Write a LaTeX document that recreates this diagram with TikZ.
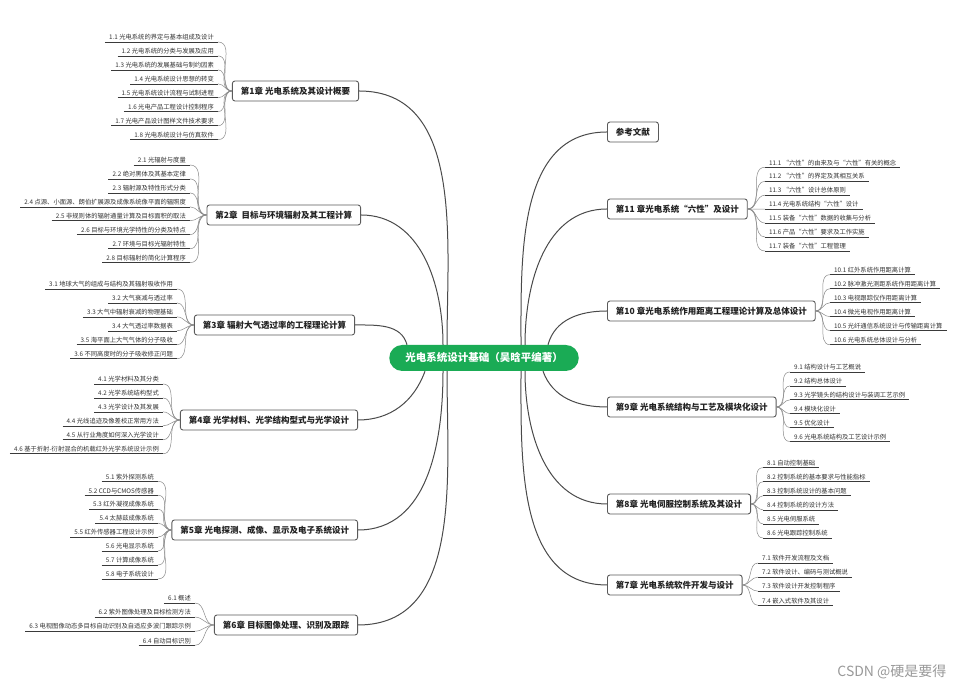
\documentclass[tikz,border=0pt]{standalone}
\usepackage{fontspec}
\setmainfont{Noto Sans CJK SC}
\usetikzlibrary{backgrounds}
\definecolor{rootgreen}{HTML}{1AAB55}
\definecolor{chapline}{HTML}{5A5A5A}
\definecolor{chaptext}{HTML}{222222}
\definecolor{leaftext}{HTML}{333333}
\definecolor{branchcol}{HTML}{4A4A4A}
\definecolor{twigcol}{HTML}{8A8A8A}
\definecolor{ulinecol}{HTML}{3A3A3A}
\definecolor{wmark}{HTML}{9A9A9A}
\begin{document}
\begin{tikzpicture}[x=1pt,y=1pt,
  rootnode/.style={fill=rootgreen, rounded corners=13pt, minimum height=26pt, inner xsep=16pt, text=white, font=\fontsize{10.5}{12}\selectfont\bfseries},
  chap/.style={draw=chapline, fill=white, line width=0.9pt, rounded corners=2.5pt, minimum height=20pt, inner xsep=8.5pt, inner ysep=2pt, text=chaptext, font=\fontsize{8.5}{10}\selectfont\bfseries},
  leaf/.style={inner xsep=4pt, inner ysep=1.5pt, text=leaftext, font=\fontsize{6.3}{7}\selectfont},
  branch/.style={draw=branchcol, line width=1pt},
  twig/.style={draw=twigcol, line width=0.5pt},
  uline/.style={draw=ulinecol, line width=0.6pt},
]
\useasboundingbox[fill=white] (0,0) rectangle (966,692);

% root
\node[rootnode] (root) at (484,334) {光电系统设计基础（吴晗平编著）};

% chapters left
\node[chap, anchor=east] (c1) at (359,601) {第1章 光电系统及其设计概要};
\node[chap, anchor=east] (c2) at (361,477) {第2章\ \ 目标与环境辐射及其工程计算};
\node[chap, anchor=east] (c3) at (355,367) {第3章 辐射大气透过率的工程理论计算};
\node[chap, anchor=east] (c4) at (358,272) {第4章 光学材料、光学结构型式与光学设计};
\node[chap, anchor=east] (c5) at (358,162) {第5章 光电探测、成像、显示及电子系统设计};
\node[chap, anchor=east] (c6) at (358,67) {第6章 目标图像处理、识别及跟踪};
% chapters right
\node[chap, anchor=west] (cr) at (607,560) {参考文献};
\node[chap, anchor=west] (c11) at (607,483) {第11 章光电系统“六性”及设计};
\node[chap, anchor=west] (c10) at (607,381) {第10 章光电系统作用距离工程理论计算及总体设计};
\node[chap, anchor=west] (c9) at (607,285) {第9章 光电系统结构与工艺及模块化设计};
\node[chap, anchor=west] (c8) at (607,188) {第8章 光电伺服控制系统及其设计};
\node[chap, anchor=west] (c7) at (607,107) {第7章 光电系统软件开发与设计};

% main branches
\draw[branch] ([xshift=-37pt]root.north) to[out=90,in=0] (c1.east);
\draw[branch] ([xshift=-41pt]root.north) to[out=90,in=0] (c2.east);
\draw[branch] ([xshift=-77pt]root.north) to[out=105,in=0] (c3.east);
\draw[branch] ([xshift=-59pt]root.south) to[out=250,in=0] (c4.east);
\draw[branch] ([xshift=-41pt]root.south) to[out=270,in=0] (c5.east);
\draw[branch] ([xshift=-37pt]root.south) to[out=270,in=0] (c6.east);
\draw[branch] ([xshift=37pt]root.north) to[out=90,in=180] (cr.west);
\draw[branch] ([xshift=41pt]root.north) to[out=90,in=180] (c11.west);
\draw[branch] ([xshift=64pt]root.north) to[out=75,in=180] (c10.west);
\draw[branch] ([xshift=59pt]root.south) to[out=290,in=180] (c9.west);
\draw[branch] ([xshift=41pt]root.south) to[out=270,in=180] (c8.west);
\draw[branch] ([xshift=37pt]root.south) to[out=270,in=180] (c7.west);

% chapter 1 leaves
\foreach \t [count=\i] in {1.1 光电系统的界定与基本组成及设计, 1.2 光电系统的分类与发展及应用, 1.3 光电系统的发展基础与制约因素, 1.4 光电系统设计思想的转变, 1.5 光电系统设计流程与试制进程, 1.6 光电产品工程设计控制程序, 1.7 光电产品设计图样文件技术要求, 1.8 光电系统设计与仿真软件}{
  \node[leaf, anchor=south east] (a\i) at (218,{650-13.95*(\i-1)}) {\t};
  \draw[uline] (a\i.south west) -- (a\i.south east);
  \draw[twig] (a\i.south east) to[out=0,in=180] (c1.west);
}
% chapter 2 leaves
\foreach \t [count=\i] in {2.1 光辐射与度量, 2.2 绝对黑体及其基本定律, 2.3 辐射源及特性形式分类, 2.4 点源、小面源、朗伯扩展源及成像系统像平面的辐照度, 2.5 非规则体的辐射通量计算及目标面积的取法, 2.6 目标与环境光学特性的分类及特点, 2.7 环境与目标光辐射特性, 2.8 目标辐射的简化计算程序}{
  \node[leaf, anchor=south east] (b\i) at (190,{527-13.95*(\i-1)}) {\t};
  \draw[uline] (b\i.south west) -- (b\i.south east);
  \draw[twig] (b\i.south east) to[out=0,in=180] (c2.west);
}
% chapter 3 leaves
\foreach \t [count=\i] in {3.1 地球大气的组成与结构及其辐射吸收作用, 3.2 大气衰减与透过率, 3.3 大气中辐射衰减的物理基础, 3.4 大气透过率数据表, 3.5 海平面上大气气体的分子吸收, 3.6 不同高度时的分子吸收修正问题}{
  \node[leaf, anchor=south east] (d\i) at (177,{403-13.95*(\i-1)}) {\t};
  \draw[uline] (d\i.south west) -- (d\i.south east);
  \draw[twig] (d\i.south east) to[out=0,in=180] (c3.west);
}
% chapter 4 leaves
\foreach \t [count=\i] in {4.1 光学材料及其分类, 4.2 光学系统结构型式, 4.3 光学设计及其发展, 4.4 光线追迹及像差校正常用方法, 4.5 从行业角度如何深入光学设计, 4.6 基于折射-衍射混合的机载红外光学系统设计示例}{
  \node[leaf, anchor=south east] (e\i) at (163,{308-13.95*(\i-1)}) {\t};
  \draw[uline] (e\i.south west) -- (e\i.south east);
  \draw[twig] (e\i.south east) to[out=0,in=180] (c4.west);
}
% chapter 5 leaves
\foreach \t [count=\i] in {5.1 紫外探测系统, 5.2 CCD与CMOS传感器, 5.3 红外凝视成像系统, 5.4 太赫兹成像系统, 5.5 红外传感器工程设计示例, 5.6 光电显示系统, 5.7 计算成像系统, 5.8 电子系统设计}{
  \node[leaf, anchor=south east] (f\i) at (158,{210.7-13.95*(\i-1)}) {\t};
  \draw[uline] (f\i.south west) -- (f\i.south east);
  \draw[twig] (f\i.south east) to[out=0,in=180] (c5.west);
}
% chapter 6 leaves
\foreach \t [count=\i] in {6.1 概述, 6.2 紫外图像处理及目标检测方法, 6.3 电视图像动态多目标自动识别及自适应多波门跟踪示例, 6.4 自动目标识别}{
  \node[leaf, anchor=south east] (g\i) at (195,{89-14.1*(\i-1)}) {\t};
  \draw[uline] (g\i.south west) -- (g\i.south east);
  \draw[twig] (g\i.south east) to[out=0,in=180] (c6.west);
}
% chapter 11 leaves
\foreach \t [count=\i] in {11.1 “六性”的由来及与“六性”有关的概念, 11.2 “六性”的界定及其相互关系, 11.3 “六性”设计总体原则, 11.4 光电系统结构“六性”设计, 11.5 装备“六性”数据的收集与分析, 11.6 产品“六性”要求及工作实施, 11.7 装备“六性”工程管理}{
  \node[leaf, anchor=south west] (h\i) at (765,{524.7-13.95*(\i-1)}) {\t};
  \draw[uline] (h\i.south west) -- (h\i.south east);
  \draw[twig] (c11.east) to[out=0,in=180] (h\i.south west);
}
% chapter 10 leaves
\foreach \t [count=\i] in {10.1 红外系统作用距离计算, 10.2 脉冲激光测距系统作用距离计算, 10.3 电视跟踪仪作用距离计算, 10.4 微光电视作用距离计算, 10.5 光纤通信系统设计与传输距离计算, 10.6 光电系统总体设计与分析}{
  \node[leaf, anchor=south west] (k\i) at (830,{417.3-14*(\i-1)}) {\t};
  \draw[uline] (k\i.south west) -- (k\i.south east);
  \draw[twig] (c10.east) to[out=0,in=180] (k\i.south west);
}
% chapter 9 leaves
\foreach \t [count=\i] in {9.1 结构设计与工艺概说, 9.2 结构总体设计, 9.3 光学镜头的结构设计与装调工艺示例, 9.4 模块化设计, 9.5 优化设计, 9.6 光电系统结构及工艺设计示例}{
  \node[leaf, anchor=south west] (m\i) at (790,{320-13.9*(\i-1)}) {\t};
  \draw[uline] (m\i.south west) -- (m\i.south east);
  \draw[twig] (c9.east) to[out=0,in=180] (m\i.south west);
}
% chapter 8 leaves
\foreach \t [count=\i] in {8.1 自动控制基础, 8.2 控制系统的基本要求与性能指标, 8.3 控制系统设计的基本问题, 8.4 控制系统的设计方法, 8.5 光电伺服系统, 8.6 光电跟踪控制系统}{
  \node[leaf, anchor=south west] (n\i) at (763,{224.3-14.05*(\i-1)}) {\t};
  \draw[uline] (n\i.south west) -- (n\i.south east);
  \draw[twig] (c8.east) to[out=0,in=180] (n\i.south west);
}
% chapter 7 leaves
\foreach \t [count=\i] in {7.1 软件开发流程及文档, 7.2 软件设计、编码与测试概说, 7.3 软件设计开发控制程序, 7.4 嵌入式软件及其设计}{
  \node[leaf, anchor=south west] (p\i) at (758,{129-14.1*(\i-1)}) {\t};
  \draw[uline] (p\i.south west) -- (p\i.south east);
  \draw[twig] (c7.east) to[out=0,in=180] (p\i.south west);
}

% watermark
\node[anchor=east, text=wmark, font=\fontsize{14}{16}\selectfont] (wm) at (950,20) {CSDN @硬是要得};
\end{tikzpicture}
\end{document}
